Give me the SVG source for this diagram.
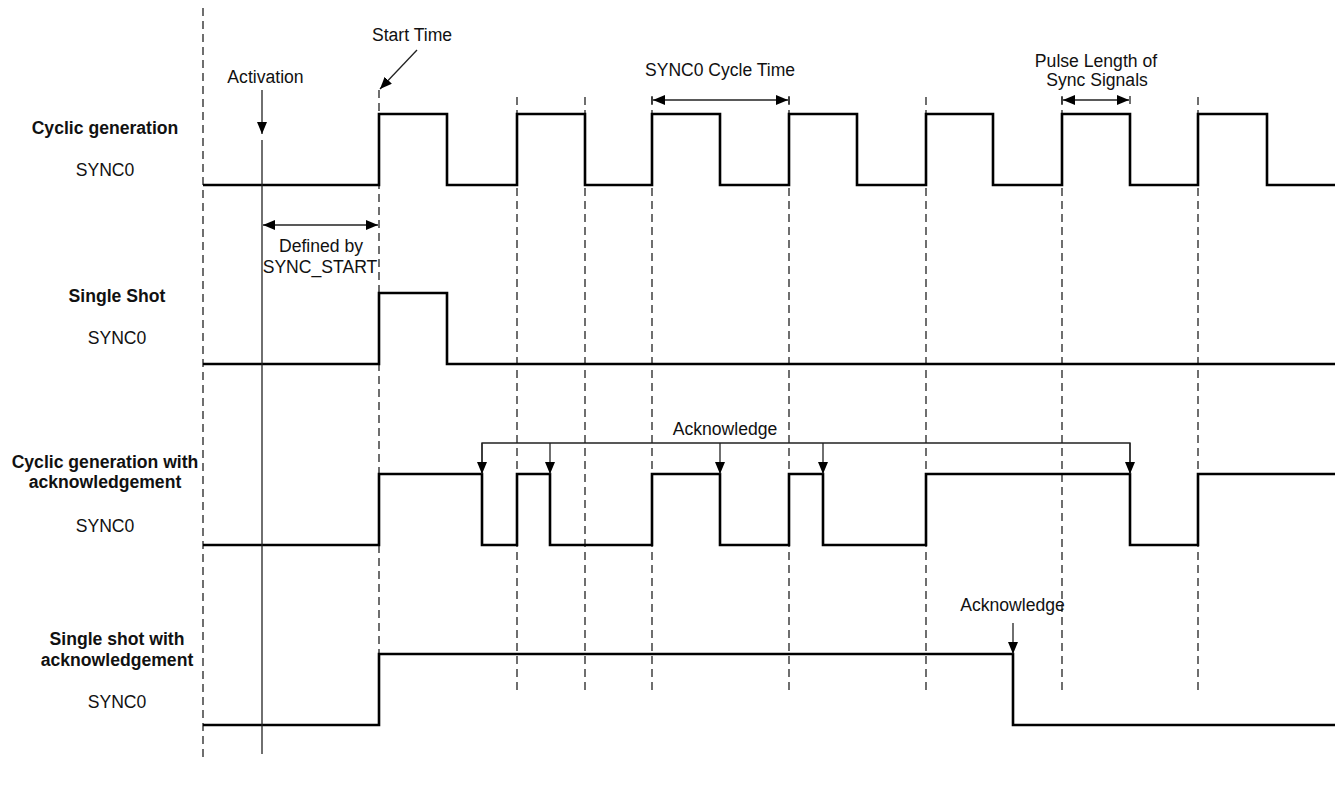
<svg xmlns="http://www.w3.org/2000/svg" width="1338" height="787" viewBox="0 0 1338 787">
<style>
text{font-family:"Liberation Sans",Arial,sans-serif;font-size:17.6px;fill:#111;text-anchor:middle}
.b{font-weight:bold}
.sig{fill:none;stroke:#000;stroke-width:2.6;stroke-linejoin:miter}
.dash{fill:none;stroke:#222;stroke-width:1.3;stroke-dasharray:8,5}
.thin{fill:none;stroke:#222;stroke-width:1.3}
</style>
<defs>
<marker id="ah" viewBox="0 0 12 10" refX="12" refY="5" markerWidth="12" markerHeight="10" orient="auto-start-reverse" markerUnits="userSpaceOnUse">
<path d="M0,0 L12,5 L0,10 z" fill="#000"/>
</marker>
</defs>
<rect width="1338" height="787" fill="#fff"/>
<g id="grid">
<line class="dash" x1="203" y1="8" x2="203" y2="762"/>
<line class="dash" x1="379" y1="90" x2="379" y2="695"/>
<line class="dash" x1="517" y1="97" x2="517" y2="695"/>
<line class="dash" x1="585" y1="97" x2="585" y2="695"/>
<line class="dash" x1="652" y1="97" x2="652" y2="695"/>
<line class="dash" x1="789" y1="97" x2="789" y2="695"/>
<line class="dash" x1="926" y1="97" x2="926" y2="695"/>
<line class="dash" x1="1062" y1="97" x2="1062" y2="695"/>
<line class="dash" x1="1198" y1="97" x2="1198" y2="695"/>
</g>
<g id="row-cyclic">
<text class="b" x="105" y="134">Cyclic generation</text>
<text x="105" y="176">SYNC0</text>
<path class="sig" d="M203,185 H379 V114 H447 V185 H517 V114 H585 V185 H652 V114 H720 V185 H789 V114 H857 V185 H926 V114 H993 V185 H1062 V114 H1130 V185 H1198 V114 H1267 V185 H1335"/>
</g>
<g id="row-single">
<text class="b" x="117" y="302">Single Shot</text>
<text x="117" y="344">SYNC0</text>
<path class="sig" d="M203,364 H379 V293 H447 V364 H1335"/>
</g>
<g id="row-cyclic-ack">
<text class="b" x="105" y="468">Cyclic generation with</text>
<text class="b" x="105" y="488">acknowledgement</text>
<text x="105" y="532">SYNC0</text>
<path class="sig" d="M203,545 H379 V474 H482 V545 H517 V474 H550 V545 H652 V474 H720 V545 H789 V474 H823 V545 H926 V474 H1130 V545 H1198 V474 H1335"/>
</g>
<g id="row-single-ack">
<text class="b" x="117" y="645">Single shot with</text>
<text class="b" x="117" y="666">acknowledgement</text>
<text x="117" y="708">SYNC0</text>
<path class="sig" d="M203,725 H379 V654 H1013 V725 H1335"/>
</g>
<g id="connectors">
<text x="412" y="41">Start Time</text>
<line class="thin" x1="417" y1="50" x2="380" y2="89" marker-end="url(#ah)"/>
<text x="265.5" y="83">Activation</text>
<line class="thin" x1="262" y1="90" x2="262" y2="134" marker-end="url(#ah)"/>
<line class="thin" x1="262" y1="140" x2="262" y2="754"/>
<line class="thin" x1="263" y1="225" x2="378" y2="225" marker-start="url(#ah)" marker-end="url(#ah)"/>
<text x="321" y="252">Defined by</text>
<text x="320" y="273">SYNC_START</text>
<text x="720" y="76" textLength="150" lengthAdjust="spacingAndGlyphs">SYNC0 Cycle Time</text>
<line class="thin" x1="653" y1="100" x2="788" y2="100" marker-start="url(#ah)" marker-end="url(#ah)"/>
<line class="thin" x1="789" y1="96" x2="789" y2="104"/>
<line class="thin" x1="652" y1="96" x2="652" y2="104"/>
<text x="1096" y="67">Pulse Length of</text>
<text x="1097" y="86">Sync Signals</text>
<line class="thin" x1="1063" y1="100" x2="1129" y2="100" marker-start="url(#ah)" marker-end="url(#ah)"/>
<line class="thin" x1="1130" y1="96" x2="1130" y2="104"/>
<line class="thin" x1="1062" y1="96" x2="1062" y2="104"/>
<text x="725" y="435">Acknowledge</text>
<path class="thin" d="M482,474 V443 H1130 V474"/>
<line class="thin" x1="482" y1="443" x2="482" y2="474" marker-end="url(#ah)"/>
<line class="thin" x1="550" y1="443" x2="550" y2="474" marker-end="url(#ah)"/>
<line class="thin" x1="720" y1="443" x2="720" y2="474" marker-end="url(#ah)"/>
<line class="thin" x1="823" y1="443" x2="823" y2="474" marker-end="url(#ah)"/>
<line class="thin" x1="1130" y1="443" x2="1130" y2="474" marker-end="url(#ah)"/>
<text x="1012.5" y="611">Acknowledge</text>
<line class="thin" x1="1013" y1="623" x2="1013" y2="654" marker-end="url(#ah)"/>
</g>
</svg>
